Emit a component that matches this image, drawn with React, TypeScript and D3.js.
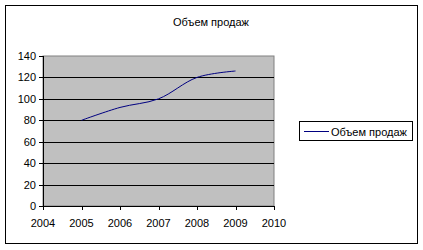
import React from "react";
import * as d3 from "d3";

const years = [2005, 2006, 2007, 2008, 2009];
const sales = [80, 92, 100, 120, 126];
const xTicks = [2004, 2005, 2006, 2007, 2008, 2009, 2010];
const yTicks = [0, 20, 40, 60, 80, 100, 120, 140];
const title = "Объем продаж";
const seriesName = "Объем продаж";

export default function App() {
  const W = 423, H = 250;
  const left = 43, right = 274, top = 56, bottom = 206;
  const x = d3.scaleLinear().domain([2004, 2010]).range([left, right]);
  const y = d3.scaleLinear().domain([0, 140]).range([bottom, top]);
  const line = d3
    .line<number>()
    .x((_, i) => x(years[i]))
    .y((d) => y(d))
    .curve(d3.curveCatmullRom.alpha(0.5));
  const font = "'Liberation Sans', Arial, sans-serif";
  return (
    <svg
      width={W}
      height={H}
      style={{ position: "absolute", left: 0, top: 0, background: "#fff" }}
      fontFamily={font}
    >
      <rect x={5.5} y={5.5} width={412} height={238} fill="#fff" stroke="#000" strokeWidth={1} />
      <text x={211} y={26} fontSize={11} textAnchor="middle" fill="#000">
        {title}
      </text>
      <rect x={left} y={top} width={right - left} height={bottom - top} fill="#C0C0C0" stroke="#808080" strokeWidth={1} />
      {yTicks.filter((t) => t > 0 && t < 140).map((t) => (
        <line key={t} x1={left} x2={right} y1={Math.round(y(t)) + 0.5} y2={Math.round(y(t)) + 0.5} stroke="#000" />
      ))}
      <path d={line(sales) || ""} fill="none" stroke="#000080" strokeWidth={1} />
      <line x1={left + 0.5} x2={left + 0.5} y1={top} y2={bottom} stroke="#000" />
      <line x1={left} x2={right} y1={bottom + 0.5} y2={bottom + 0.5} stroke="#000" />
      {yTicks.map((t) => (
        <g key={t}>
          <line x1={left - 4} x2={left} y1={Math.round(y(t)) + 0.5} y2={Math.round(y(t)) + 0.5} stroke="#000" />
          <text x={left - 7} y={y(t) + 4} fontSize={11} textAnchor="end" fill="#000">
            {t}
          </text>
        </g>
      ))}
      {xTicks.map((t) => (
        <g key={t}>
          <line x1={Math.round(x(t)) + 0.5} x2={Math.round(x(t)) + 0.5} y1={bottom} y2={bottom + 4} stroke="#000" />
          <text x={x(t)} y={bottom + 21} fontSize={11} textAnchor="middle" fill="#000">
            {t}
          </text>
        </g>
      ))}
      <rect x={299.5} y={121.5} width={113} height={19} fill="#fff" stroke="#000" />
      <line x1={304} x2={329} y1={131.5} y2={131.5} stroke="#000080" />
      <text x={331} y={135.5} fontSize={11} fill="#000">
        {seriesName}
      </text>
    </svg>
  );
}
